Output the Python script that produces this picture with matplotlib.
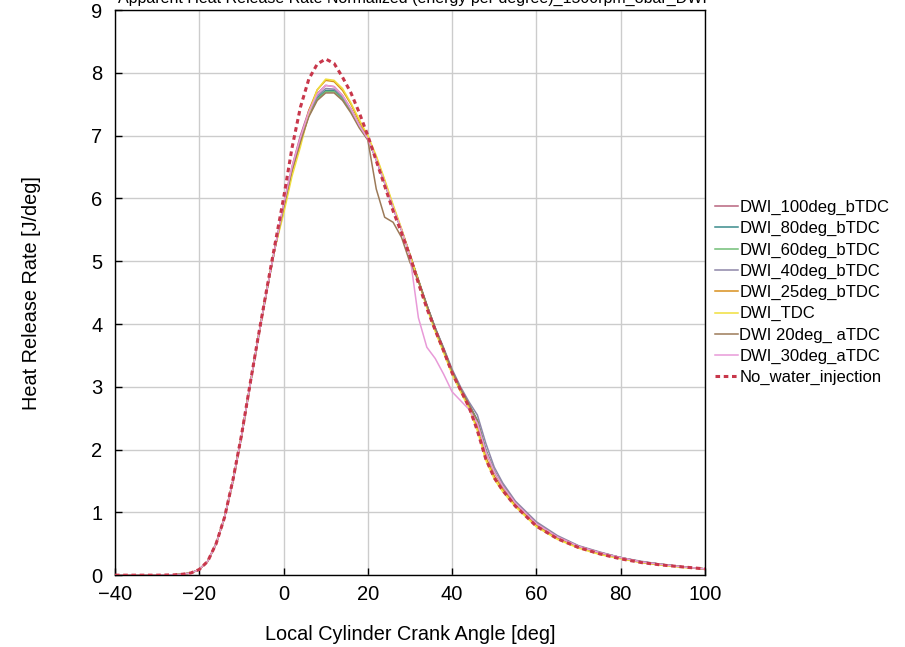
import matplotlib
matplotlib.use("Agg")
import matplotlib.pyplot as plt

plt.rcParams['font.family'] = ['Liberation Sans', 'DejaVu Sans']

crank_angle = [-40, -30, -26, -24, -22, -20, -18, -16, -14, -12, -10, -8, -6, -4, -2,
               0, 2, 4, 6, 8, 10, 12, 14, 16, 18, 20, 22, 24, 26, 28, 30, 32, 34,
               36, 38, 40, 42, 44, 46, 48, 50, 52, 55, 60, 65, 70, 75, 80, 85, 90, 95, 100]

rise = [0, 0, 0.005, 0.015, 0.035, 0.09, 0.22, 0.5, 0.92, 1.5, 2.2, 3.0, 3.78, 4.52, 5.22]
tail = [0.82, 0.61, 0.46, 0.36, 0.28, 0.21, 0.17, 0.13, 0.1]

dwi_100 = rise + [5.9, 6.5, 7.0, 7.4, 7.67, 7.8, 7.78, 7.64, 7.42, 7.16, 6.95, 6.62, 6.25,
                  5.85, 5.5, 5.1, 4.7, 4.3, 3.93, 3.6, 3.25, 2.97, 2.72, 2.45, 1.98,
                  1.65, 1.42, 1.15] + tail
dwi_80 = rise + [5.85, 6.45, 6.9, 7.33, 7.6, 7.72, 7.72, 7.6, 7.4, 7.15, 6.95, 6.62, 6.25,
                 5.85, 5.5, 5.1, 4.7, 4.3, 3.93, 3.6, 3.25, 2.97, 2.72, 2.47, 2.0,
                 1.66, 1.43, 1.16] + tail
dwi_60 = rise + [5.85, 6.45, 6.9, 7.32, 7.58, 7.7, 7.7, 7.58, 7.38, 7.14, 6.95, 6.62, 6.25,
                 5.85, 5.5, 5.1, 4.7, 4.3, 3.93, 3.6, 3.25, 2.97, 2.72, 2.45, 1.98,
                 1.65, 1.42, 1.15] + tail
dwi_40 = rise + [5.85, 6.45, 6.9, 7.35, 7.63, 7.75, 7.74, 7.62, 7.42, 7.16, 6.95, 6.63, 6.26,
                 5.86, 5.5, 5.1, 4.7, 4.3, 3.94, 3.62, 3.28, 3.0, 2.76, 2.55, 2.1,
                 1.72, 1.47, 1.18, 0.85, 0.63, 0.47, 0.37, 0.28, 0.22, 0.17, 0.13, 0.1]
dwi_25 = rise + [5.8, 6.42, 6.88, 7.4, 7.73, 7.88, 7.86, 7.72, 7.5, 7.22, 6.98, 6.66, 6.28,
                 5.88, 5.5, 5.1, 4.7, 4.28, 3.9, 3.56, 3.22, 2.94, 2.68, 2.35, 1.88,
                 1.58, 1.37, 1.12, 0.79, 0.59, 0.45, 0.35, 0.27, 0.2, 0.16, 0.13, 0.1]
dwi_tdc = rise + [5.75, 6.35, 6.82, 7.35, 7.73, 7.9, 7.88, 7.75, 7.52, 7.25, 7.0, 6.68, 6.3,
                  5.9, 5.52, 5.1, 4.68, 4.26, 3.88, 3.54, 3.2, 2.92, 2.66, 2.3, 1.83,
                  1.53, 1.33, 1.09, 0.77, 0.57, 0.43, 0.33, 0.26, 0.2, 0.16, 0.12, 0.1]
dwi_20_atdc = rise + [5.85, 6.45, 6.9, 7.3, 7.56, 7.68, 7.68, 7.56, 7.36, 7.12, 6.93, 6.15, 5.7,
                      5.62, 5.38, 4.98, 4.68, 4.3, 3.93, 3.6, 3.25, 2.97, 2.72, 2.45, 1.98,
                      1.65, 1.42, 1.15] + tail
dwi_30_atdc = rise + [5.9, 6.5, 6.97, 7.38, 7.66, 7.8, 7.78, 7.64, 7.42, 7.16, 6.95, 6.62, 6.25,
                      5.85, 5.5, 5.08, 4.1, 3.63, 3.45, 3.2, 2.92, 2.78, 2.64, 2.42, 1.97,
                      1.65, 1.42, 1.15] + tail
no_water = [0, 0, 0.005, 0.015, 0.035, 0.09, 0.22, 0.5, 0.92, 1.52, 2.22, 3.02, 3.8, 4.55, 5.28,
            6.0, 6.8, 7.45, 7.9, 8.14, 8.22, 8.15, 7.93, 7.68, 7.36, 7.0, 6.6, 6.2,
            5.8, 5.45, 5.08, 4.65, 4.25, 3.9, 3.57, 3.22, 2.95, 2.68, 2.3, 1.85,
            1.55, 1.35, 1.1, 0.78, 0.58, 0.44, 0.34, 0.26, 0.2, 0.16, 0.13, 0.1]

series = [
    ("DWI_100deg_bTDC", dwi_100, '#b8647e'),
    ("DWI_80deg_bTDC", dwi_80, '#3a8c8c'),
    ("DWI_60deg_bTDC", dwi_60, '#72bf76'),
    ("DWI_40deg_bTDC", dwi_40, '#8e86a8'),
    ("DWI_25deg_bTDC", dwi_25, '#d9901c'),
    ("DWI_TDC", dwi_tdc, '#f0df3c'),
    ("DWI 20deg_ aTDC", dwi_20_atdc, '#9c7a58'),
    ("DWI_30deg_aTDC", dwi_30_atdc, '#e89ad8'),
]

fig = plt.figure(figsize=(9.05, 6.47), dpi=100)
ax = fig.add_axes([0.127, 0.111, 0.652, 0.8735])

for name, vals, col in series:
    ax.plot(crank_angle, vals, color=col, lw=1.1, label=name)
ax.plot(crank_angle, no_water, color='#c8374b', lw=2.2, linestyle=(0, (1.5, 1.2)),
        label="No_water_injection", zorder=5)

ax.set_xlim(-40, 100)
ax.set_ylim(0, 9)
ax.set_xticks(range(-40, 101, 20))
ax.set_yticks(range(0, 10))
ax.set_xticklabels(['\u221240', '\u221220', '0', '20', '40', '60', '80', '100'])
ax.tick_params(direction='in', labelsize=14.5, length=5, width=1)
ax.tick_params(axis='x', pad=7)
ax.tick_params(axis='y', pad=9)
ax.grid(True, color='#cccccc', lw=1)
ax.set_axisbelow(True)
for sp in ax.spines.values():
    sp.set_color('black')
    sp.set_linewidth(1)

ax.set_xlabel("Local Cylinder Crank Angle [deg]", fontsize=14.3, labelpad=15)
ax.set_ylabel("Heat Release Rate [J/deg]", fontsize=14.3, labelpad=36)

fig.text(0.456, 1.0 + 2 / 647, "Apparent Heat Release Rate Normalized (energy per degree)_1500rpm_8bar_DWI",
         ha='center', va='center', fontsize=11.5)

ax.legend(loc='center left', bbox_to_anchor=(1.0, 0.5), frameon=False, fontsize=12,
          handlelength=1.4, handletextpad=0.05, labelspacing=0.37, borderaxespad=0.2)

fig.savefig("out.png", dpi=100)
